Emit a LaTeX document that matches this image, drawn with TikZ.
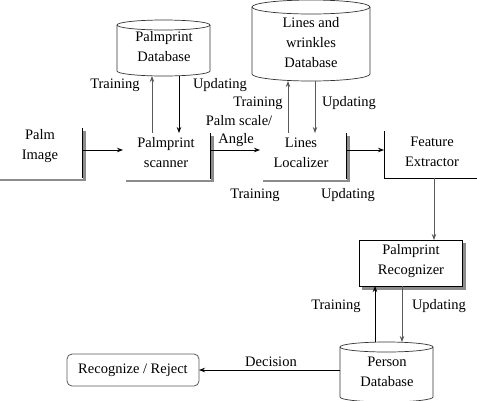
\documentclass[tikz,border=0pt]{standalone}
\usepackage{fontspec}
\setmainfont{Liberation Serif}
\usetikzlibrary{arrows.meta,calc}
\newcommand\dbdraw[3]{% node name, half width, ry
  \draw[cylline] ([yshift=-#3]#1.north west) -- ([yshift=#3]#1.south west)
    arc[start angle=180,end angle=360,x radius=#2,y radius=#3]
    -- ([yshift=-#3]#1.north east);
  \draw[cylline] ([yshift=-#3]#1.north) ellipse[x radius=#2,y radius=#3];
}
\begin{document}
\begin{tikzpicture}[x=1pt,y=-1pt,
  txt/.style={font=\fontsize{14.5}{20}\selectfont, align=center, inner sep=0pt},
  lbl/.style={font=\fontsize{14.5}{16}\selectfont, inner sep=0pt},
  area/.style={inner sep=0pt, outer sep=0pt},
  arr/.style={line width=0.8pt, -{Stealth[length=6pt,width=4.5pt]}},
  garr/.style={arr, draw=black!65},
  edgeline/.style={line width=1pt, black},
  shadowline/.style={line width=2.6pt, black!45},
  cylline/.style={line width=0.7pt, black!80}
]
\useasboundingbox (0,0) rectangle (477,400);

% ---------- boxes (areas) ----------
\node[area, minimum width=90pt, minimum height=50pt] (pimg) at (37,153) {};
\node[area, minimum width=87pt, minimum height=46pt] (scan) at (166.5,156) {};
\node[area, minimum width=86pt, minimum height=46pt] (loc) at (303,156) {};
\node[area, minimum width=100pt, minimum height=47pt] (feat) at (434,154.5) {};
\node[area, draw, line width=1pt, minimum width=103pt, minimum height=46pt] (recg) at (410.5,263) {};
\node[area, draw=black!65, line width=0.8pt, rounded corners=5pt, minimum width=132pt, minimum height=32pt,
      font=\fontsize{14.5}{16}\selectfont] (rr) at (133,370) {Recognize / Reject};

% databases
\node[area, minimum width=93pt, minimum height=56pt] (pdb) at (163.5,48) {};
\node[area, minimum width=118pt, minimum height=81pt] (ldb) at (311,40.5) {};
\node[area, minimum width=93pt, minimum height=60pt] (pers) at (386.5,372) {};
\dbdraw{pdb}{46.5pt}{5pt}
\dbdraw{ldb}{59pt}{7pt}
\dbdraw{pers}{46.5pt}{5pt}

% box edges
\draw[shadowline] ([xshift=2.5pt,yshift=-3pt]pimg.north east) -- ([xshift=2.5pt,yshift=-2pt]pimg.south east) -- (0,180);
\draw[edgeline] (pimg.north east) -- (pimg.south east);
\draw[shadowline] ([xshift=2.5pt,yshift=-3pt]scan.north east) -- ([xshift=2.5pt,yshift=-2pt]scan.south east) -- ([xshift=3pt,yshift=-2pt]scan.south west);
\draw[edgeline] (scan.north east) -- (scan.south east);
\draw[shadowline] ([xshift=2.5pt,yshift=-3pt]loc.north east) -- ([xshift=2.5pt,yshift=-2pt]loc.south east) -- ([xshift=3pt,yshift=-2pt]loc.south west);
\draw[edgeline] (loc.north east) -- (loc.south east);
\draw[edgeline] (feat.north west) -- (feat.south west) -- (feat.south east);
\draw[shadowline] ([xshift=2.5pt,yshift=-3pt]recg.north east) -- ([xshift=2.5pt,yshift=-2.5pt]recg.south east) -- ([xshift=3pt,yshift=-2.5pt]recg.south west);

% ---------- texts ----------
\node[txt] (tpimg) at (40,146.5) {Palm\\Image};
\node[txt] (tscan) at (166,153) {Palmprint\\scanner};
\node[txt] (tloc) at (301,153) {Lines\\Localizer};
\node[txt] (tfeat) at (432,152) {Feature\\Extractor};
\node[txt] (tpdb) at (164,47) {Palmprint\\Database};
\node[txt] (tldb) at (311,43) {Lines and\\wrinkles\\Database};
\node[txt] (trecg) at (411,261) {Palmprint\\Recognizer};
\node[txt] (tpers) at (387,372) {Person\\Database};

% ---------- connectors ----------
\coordinate (row) at (0,150);
\coordinate (xa) at (152,0);
\coordinate (xb) at (179,0);
\coordinate (xc) at (288,0);
\coordinate (xd) at (315,0);
\coordinate (xe) at (434,0);
\coordinate (xf) at (375,0);
\coordinate (xg) at (402,0);

\draw[arr] (pimg.east |- row) -- (scan.west |- row);
\draw[arr] (scan.east |- row) -- (loc.west |- row);
\draw[arr] (loc.east |- row) -- (feat.west |- row);

\draw[garr] (scan.north -| xa) -- (pdb.south -| xa);
\draw[arr] (pdb.south -| xb) -- (scan.north -| xb);
\draw[garr] (loc.north -| xc) -- (ldb.south -| xc);
\draw[garr] (ldb.south -| xd) -- (loc.north -| xd);

\draw[garr] (feat.south -| xe) -- (recg.north -| xe);
\draw[arr] (pers.north -| xf) -- (recg.south -| xf);
\draw[garr] (recg.south -| xg) -- (pers.north -| xg);

\draw[arr] (pers.west |- rr.east) -- (rr.east);

% ---------- labels ----------
\node[lbl] (l1) at (115,85) {Training};
\node[lbl] (l2) at (220,85) {Updating};
\node[lbl] (l3) at (258,103) {Training};
\node[lbl] (l4) at (349,103) {Updating};
\node[lbl] (l5) at (239,121) {Palm scale/};
\node[lbl] (l6) at (236,140) {Angle};
\node[lbl] (l7) at (255,195) {Training};
\node[lbl] (l8) at (348,195) {Updating};
\node[lbl] (l9) at (336,306) {Training};
\node[lbl] (l10) at (439,306) {Updating};
\node[lbl] (l11) at (271,362) {Decision};
\end{tikzpicture}
\end{document}
